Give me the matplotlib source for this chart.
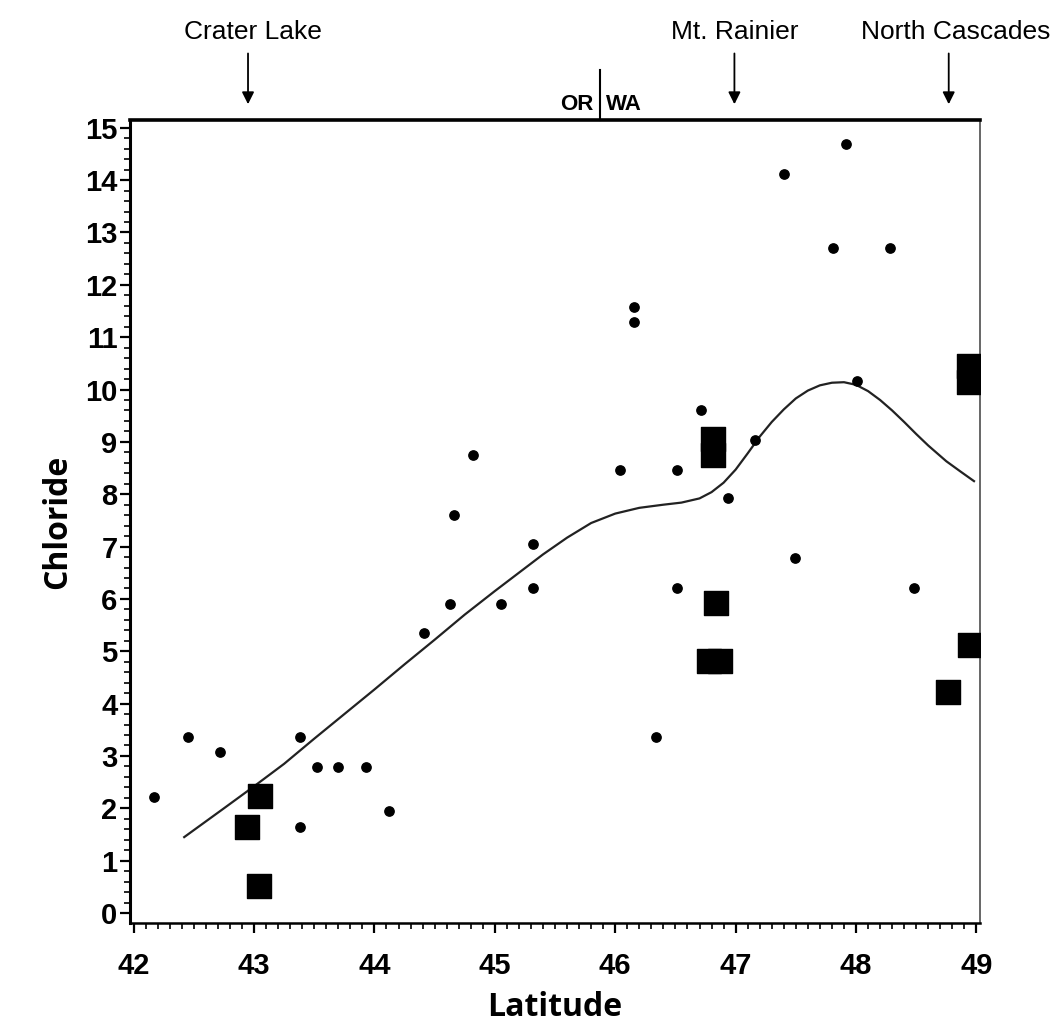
import matplotlib
matplotlib.use("Agg")
import matplotlib.pyplot as plt
from matplotlib.ticker import MultipleLocator

# site data (round dots)
dot_lat = [42.17, 42.45, 42.72, 43.38, 43.38, 43.52, 43.70, 43.93, 44.12, 44.41,
           44.63, 44.66, 44.82, 45.05, 45.32, 45.32, 46.04, 46.16, 46.16, 46.34,
           46.51, 46.51, 46.71, 46.94, 47.16, 47.40, 47.49, 47.81, 47.92, 48.01,
           48.28, 48.48]
dot_cl = [2.22, 3.36, 3.07, 3.36, 1.65, 2.79, 2.79, 2.79, 1.94, 5.35,
          5.91, 7.61, 8.74, 5.91, 7.05, 6.20, 8.47, 11.57, 11.29, 3.37,
          8.47, 6.21, 9.60, 7.93, 9.04, 14.12, 6.78, 12.71, 14.70, 10.17,
          12.71, 6.21]

# park sites (squares)
sq_lat = [42.94, 43.05, 43.04, 46.81, 46.81, 46.84, 46.78, 46.87, 48.94, 48.94, 48.95, 48.76]
sq_cl = [1.65, 2.24, 0.52, 9.05, 8.75, 5.92, 4.82, 4.82, 10.45, 10.15, 5.12, 4.22]

# smoothed fit
fit_lat = [42.42, 42.75, 43.0, 43.25, 43.5, 43.75, 44.0, 44.25, 44.5, 44.75,
           45.0, 45.2, 45.4, 45.6, 45.8, 46.0, 46.2, 46.4, 46.55, 46.7,
           46.8, 46.9, 47.0, 47.1, 47.2, 47.3, 47.4, 47.5, 47.6, 47.7,
           47.8, 47.9, 48.0, 48.1, 48.2, 48.3, 48.4, 48.5, 48.6, 48.75,
           48.87, 48.98]
fit_cl = [1.45, 2.0, 2.42, 2.85, 3.33, 3.8, 4.27, 4.75, 5.22, 5.7,
          6.15, 6.5, 6.85, 7.17, 7.45, 7.63, 7.74, 7.8, 7.84, 7.92,
          8.04, 8.22, 8.47, 8.78, 9.1, 9.38, 9.62, 9.83, 9.98, 10.08,
          10.13, 10.14, 10.09, 9.97, 9.8, 9.6, 9.38, 9.15, 8.93, 8.63,
          8.43, 8.25]

parks = ["Crater Lake", "Mt. Rainier", "North Cascades"]
park_lat = [42.95, 46.99, 48.77]
park_text_lat = [42.99, 46.99, 48.83]
border_lat = 45.87

fam = ["Liberation Sans", "DejaVu Sans"]

fig = plt.figure(figsize=(10.58, 10.34), dpi=100)
ax = fig.add_axes([0.1229, 0.1074, 0.8034, 0.7766])

ax.plot(fit_lat, fit_cl, color="#222222", lw=1.6, zorder=2)
ax.scatter(dot_lat, dot_cl, s=45, color="black", marker="o", zorder=3)
ax.scatter(sq_lat, sq_cl, s=300, color="black", marker="s", zorder=3)

ax.set_xlim(41.97, 49.03)
ax.set_ylim(-0.19, 15.15)
ax.xaxis.set_major_locator(MultipleLocator(1))
ax.xaxis.set_minor_locator(MultipleLocator(0.1))
ax.yaxis.set_major_locator(MultipleLocator(1))
ax.yaxis.set_minor_locator(MultipleLocator(0.2))
ax.tick_params(which="major", length=7, width=1.6, direction="out")
ax.tick_params(which="minor", length=4, width=1.2, direction="out")
for lab in ax.get_xticklabels() + ax.get_yticklabels():
    lab.set_family(fam)
    lab.set_fontweight("bold")
    lab.set_fontsize(21)
ax.tick_params(axis="x", pad=14)
ax.tick_params(axis="y", pad=2)

ax.spines["top"].set_linewidth(2.6)
ax.spines["left"].set_linewidth(2.2)
ax.spines["bottom"].set_linewidth(1.8)
ax.spines["right"].set_linewidth(1.4)
ax.spines["right"].set_color("#666666")

ax.set_xlabel("Latitude", fontsize=23, fontweight="bold", family="Open Sans", labelpad=8)
ax.set_ylabel("Chloride", fontsize=23, fontweight="bold", family="Open Sans", labelpad=8)

# park labels with arrows above the plot
for name, lat, tlat in zip(parks, park_lat, park_text_lat):
    ax.text(tlat, 16.6, name, ha="center", va="bottom", fontsize=19, family=fam)
    ax.annotate("", xy=(lat, 15.45), xytext=(lat, 16.42),
                xycoords="data", textcoords="data", annotation_clip=False,
                arrowprops=dict(arrowstyle="-|>", color="black", lw=1.3,
                                mutation_scale=18, shrinkA=0, shrinkB=0))

ax.plot([border_lat, border_lat], [15.15, 16.1], color="black", lw=1.5, clip_on=False)
ax.text(border_lat - 0.05, 15.25, "OR", ha="right", va="bottom", fontsize=16,
        fontweight="bold", family=fam)
ax.text(border_lat + 0.05, 15.25, "WA", ha="left", va="bottom", fontsize=16,
        fontweight="bold", family=fam)

fig.savefig("out.png", dpi=100)
